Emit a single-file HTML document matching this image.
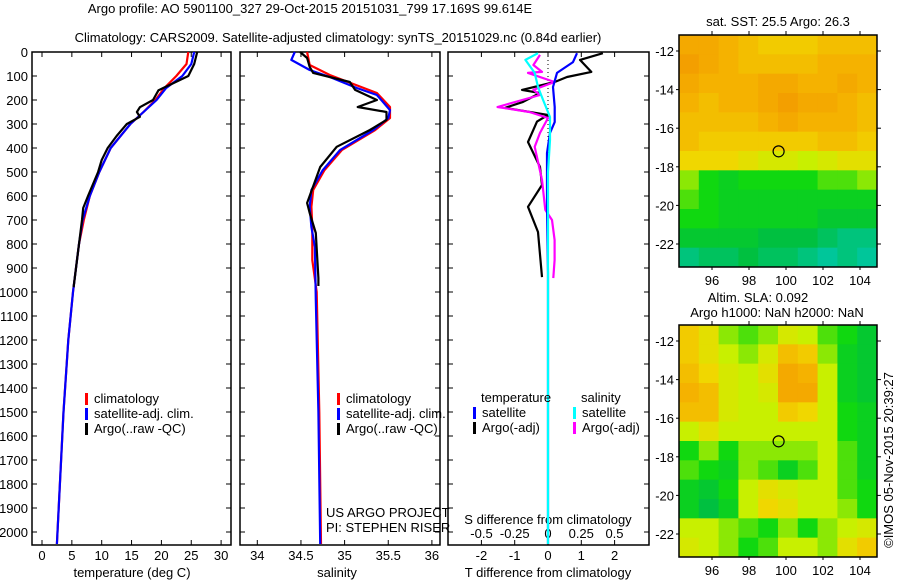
<!DOCTYPE html>
<html><head><meta charset="utf-8">
<style>
html,body{margin:0;padding:0;background:#fff}
svg{display:block;font-family:"Liberation Sans",Arial,sans-serif;font-size:13px}
</style></head>
<body>
<svg id="c" width="900" height="580" viewBox="0 0 900 580">
<text x="310" y="13" text-anchor="middle">Argo profile: AO 5901100_327 29-Oct-2015 20151031_799 17.169S 99.614E</text>
<text x="338" y="42" text-anchor="middle">Climatology: CARS2009. Satellite-adjusted climatology: synTS_20151029.nc (0.84d earlier)</text>
<g id="g"></g>
</svg>
<script>
// ---------- data ----------
const depthTicks=[0,100,200,300,400,500,600,700,800,900,1000,1100,1200,1300,1400,1500,1600,1700,1800,1900,2000];
const tempTicks=[0,5,10,15,20,25,30];
const salTicks=[34,34.5,35,35.5,36];
const tdiffTicks=[-2,-1,0,1,2];
const sdiffTicks=[-0.5,-0.25,0,0.25,0.5];
const sdiffTickLabels=["-0.5","-0.25","0","0.25","0.5"];
const latTicks=[-12,-14,-16,-18,-20,-22];
const lonTicks=[96,98,100,102,104];

const tClimDepth=[0,50,100,150,200,250,300,400,500,600,700,800,1000,1200,1500,2000,2050];
const tClimVal=[24.5,24.2,22.5,20.5,19,17,14.8,11.5,9.6,8,7,6.2,5.2,4.4,3.6,2.6,2.5];
const tSatDepth=[0,50,100,150,200,250,300,400,500,600,700,800,1000,1200,1500,2000,2050];
const tSatVal=[25.5,25,23.5,20.8,19.2,17,14.8,11.5,9.6,8,6.8,6.2,5.2,4.4,3.6,2.6,2.5];
const tArgoDepth=[0,50,100,150,160,200,230,250,270,300,350,400,450,500,600,650,700,800,900,980];
const tArgoVal=[26,25.5,24.5,20.3,19.5,18.6,16.4,15.9,16.4,14.2,12.5,11,10,9.4,7.7,6.9,6.7,6.2,5.7,5.3];

const sClimDepth=[0,54,96,171,229,275,325,408,492,575,645,729,867,1000,1500,2050];
const sClimVal=[34.57,34.6,34.83,35.37,35.52,35.52,35.35,34.97,34.77,34.64,34.62,34.63,34.63,34.68,34.71,34.73];
const sSatDepth=[0,33,75,104,150,179,242,275,325,408,492,575,645,729,812,1033,1500,2050];
const sSatVal=[34.43,34.39,34.6,34.83,35.14,35.37,35.52,35.5,35.33,34.95,34.75,34.62,34.6,34.62,34.66,34.67,34.7,34.72];
const sArgoDepth=[0,25,62,87,125,158,200,229,250,283,325,395,479,629,671,754,942,975];
const sArgoVal=[34.49,34.57,34.6,34.64,35.06,35.12,35.37,35.15,35.48,35.48,35.29,34.91,34.72,34.57,34.6,34.67,34.7,34.7];

const dTArgoDepth=[5,33,83,104,125,158,171,208,233,262,290,375,479,554,645,750,938];
const dTArgoVal=[1.65,0.96,1.3,0.57,0.2,-0.78,-0.24,-0.75,-1.29,0,-0.33,-0.6,-0.24,-0.18,-0.6,-0.3,-0.18];
const dSArgoDepth=[12,54,83,87,125,158,179,229,250,275,337,395,533,658,700,783,867,942];
const dSArgoVal=[-0.06,-0.11,-0.045,-0.15,0.05,-0.11,-0.06,-0.38,-0.14,0,-0.06,-0.1,-0.045,-0.02,0.03,0.05,0.05,0.04];
const dTSatDepth=[5,42,87,146,229,292,337,421,645,921,2050];
const dTSatVal=[0.87,0.75,0.27,0.15,0.2,0.2,0.06,-0.03,-0.03,0,0];
const dSSatDepth=[5,33,87,146,200,271,367,500,2050];
const dSSatVal=[-0.075,-0.17,-0.1,-0.075,-0.037,0.015,0.015,0,0];

const sstGrid=[
[.85,.85,.8,.75,.7,.7,.7,.75,.75,.75],
[.9,.85,.8,.75,.75,.75,.75,.8,.8,.8],
[.85,.8,.8,.8,.85,.85,.8,.8,.85,.8],
[.8,.75,.8,.8,.85,.9,.85,.85,.8,.75],
[.75,.75,.75,.75,.8,.85,.8,.8,.8,.75],
[.75,.7,.7,.7,.7,.7,.7,.75,.75,.7],
[.65,.65,.65,.6,.55,.55,.5,.55,.6,.6],
[.45,.35,.3,.35,.35,.35,.35,.4,.4,.45],
[.4,.35,.3,.3,.3,.3,.3,.3,.3,.3],
[.35,.35,.3,.3,.3,.3,.3,.25,.25,.25],
[.25,.25,.25,.25,.2,.2,.2,.15,.1,.1],
[.1,.15,.15,.2,.15,.15,.1,.05,.1,.05]];
const slaGrid=[
[.7,.6,.45,.4,.45,.55,.5,.4,.35,.25],
[.7,.6,.5,.45,.55,.75,.7,.45,.3,.25],
[.75,.65,.55,.5,.6,.85,.8,.5,.3,.25],
[.8,.75,.55,.5,.55,.85,.85,.5,.3,.25],
[.75,.75,.55,.5,.5,.7,.65,.5,.35,.3],
[.5,.6,.5,.5,.5,.5,.5,.5,.35,.3],
[.35,.45,.35,.45,.45,.45,.45,.5,.4,.3],
[.4,.35,.3,.45,.4,.3,.4,.5,.4,.3],
[.3,.25,.35,.5,.6,.55,.5,.5,.4,.35],
[.3,.2,.3,.5,.65,.6,.5,.5,.45,.35],
[.5,.5,.45,.4,.35,.45,.35,.45,.5,.55],
[.55,.5,.45,.35,.4,.5,.5,.45,.6,.7]];
const argoLon=99.6, argoLat=-17.2;

// ---------- helpers ----------
const NS="http://www.w3.org/2000/svg";
const G=document.getElementById('g');
function el(tag,attrs,parent){const e=document.createElementNS(NS,tag);for(const k in attrs)e.setAttribute(k,attrs[k]);(parent||G).appendChild(e);return e;}
function txt(x,y,s,anchor,parent){const t=el('text',{x:x,y:y,'text-anchor':anchor||'start'},parent);t.textContent=s;return t;}

const Y0=52, PXM=0.24, YB=545;
const yD=d=>Y0+d*PXM;
const xT=v=>42+v*5.97;
const xS=v=>257.3+(v-34)*87.3;
const xDT=v=>548+v*33.3;
const xDS=v=>548+v*133;

function panel(x0,x1,name){
  const r=el('rect',{x:x0,y:Y0,width:x1-x0,height:YB-Y0,fill:'none',stroke:'#000','stroke-width':1.5});
  
  
  depthTicks.forEach(d=>{
    el('line',{x1:x0,x2:x0+5,y1:yD(d),y2:yD(d),stroke:'#000'});
    el('line',{x1:x1-5,x2:x1,y1:yD(d),y2:yD(d),stroke:'#000'});
  });
}
function line(ds,vs,sx,color,name,w){
  const p=ds.map((d,i)=>sx(vs[i]).toFixed(1)+','+yD(d).toFixed(1)).join(' ');
  const e=el('polyline',{points:p,fill:'none',stroke:color,'stroke-width':w||2.2,'stroke-linejoin':'round'});
  
  
}
function legend(x,y,items,parent){
  items.forEach((it,i)=>{
    el('rect',{x:x,y:y+i*15-10,width:3,height:12,fill:it[0]});
    txt(x+9,y+i*15,it[1]);
  });
}

depthTicks.forEach(d=>{const t=txt(28,yD(d)+5,String(d),'end');

});

// panel 1: temperature
panel(32,231,'temperature-panel');
tempTicks.forEach(v=>{el('line',{x1:xT(v),x2:xT(v),y1:YB,y2:YB-5,stroke:'#000'});el('line',{x1:xT(v),x2:xT(v),y1:Y0,y2:Y0+5,stroke:'#000'});txt(xT(v),560,String(v),'middle');});
txt(132,577,'temperature (deg C)','middle');
line(tClimDepth,tClimVal,xT,'#f00','temp-climatology-line');
line(tSatDepth,tSatVal,xT,'#00f','temp-satellite-line');
line(tArgoDepth,tArgoVal,xT,'#000','temp-argo-line');
legend(85,403,[['#f00','climatology'],['#00f','satellite-adj. clim.'],['#000','Argo(..raw -QC)']]);

// panel 2: salinity
panel(240,440,'salinity-panel');
salTicks.forEach(v=>{el('line',{x1:xS(v),x2:xS(v),y1:YB,y2:YB-5,stroke:'#000'});el('line',{x1:xS(v),x2:xS(v),y1:Y0,y2:Y0+5,stroke:'#000'});txt(xS(v),560,String(v),'middle');});
txt(337,577,'salinity','middle');
line(sClimDepth,sClimVal,xS,'#f00','sal-climatology-line');
line(sSatDepth,sSatVal,xS,'#00f','sal-satellite-line');
line(sArgoDepth,sArgoVal,xS,'#000','sal-argo-line');
legend(337,403,[['#f00','climatology'],['#00f','satellite-adj. clim.'],['#000','Argo(..raw -QC)']]);
txt(326,517,'US ARGO PROJECT');
txt(326,532,'PI: STEPHEN RISER');

// panel 3: differences
panel(448,649,'difference-panel');
tdiffTicks.forEach(v=>{el('line',{x1:xDT(v),x2:xDT(v),y1:YB,y2:YB-5,stroke:'#000'});el('line',{x1:xDT(v),x2:xDT(v),y1:Y0,y2:Y0+5,stroke:'#000'});txt(xDT(v),560,String(v),'middle');});
sdiffTicks.forEach((v,i)=>{txt(xDS(v),538,sdiffTickLabels[i],'middle');});
txt(548,524,'S difference from climatology','middle');
txt(548,577,'T difference from climatology','middle');
el('line',{x1:548,x2:548,y1:Y0,y2:YB,stroke:'#000','stroke-dasharray':'1,3'});
line(dTArgoDepth,dTArgoVal,xDT,'#000','tdiff-argo-line');
line(dSArgoDepth,dSArgoVal,xDS,'#f0f','sdiff-argo-line');
line(dTSatDepth,dTSatVal,xDT,'#00f','tdiff-satellite-line');
line(dSSatDepth,dSSatVal,xDS,'#0ff','sdiff-satellite-line');
txt(481,402,'temperature');txt(581,402,'salinity');
legend(473,417,[['#00f','satellite'],['#000','Argo(-adj)']]);
legend(573,417,[['#0ff','satellite'],['#f0f','Argo(-adj)']]);

// maps
const stops=[[0,[0,200,184]],[0.2,[0,192,64]],[0.35,[16,216,16]],[0.5,[200,240,0]],[0.65,[240,215,0]],[0.8,[245,178,0]],[1,[240,140,0]]];
function cmap(v){for(let i=1;i<stops.length;i++){if(v<=stops[i][0]){const a=stops[i-1],b=stops[i],t=(v-a[0])/(b[0]-a[0]);return 'rgb('+a[1].map((c,k)=>Math.round(c+(b[1][k]-c)*t)).join(',')+')';}}return 'rgb(240,140,0)';}
function map(top,grid,name){
  const X0=679,X1=877,Yt=top,Yb=top+232;
  const xL=lon=>712+(lon-96)*18.5;
  const yL=lat=>Yt+16+(-12-lat)*19.3;
  const g=el('g',{});
  
  
  const rows=grid.length,cols=grid[0].length,cw=(X1-X0)/cols,rh=(Yb-Yt)/rows;
  grid.forEach((row,i)=>row.forEach((v,j)=>{
    const c=el('rect',{x:X0+j*cw,y:Yt+i*rh,width:cw+0.5,height:rh+0.5,fill:cmap(v)},g);
    
    
  }));
  el('rect',{x:X0,y:Yt,width:X1-X0,height:Yb-Yt,fill:'none',stroke:'#000','stroke-width':1.5},g);
  latTicks.forEach(l=>{el('line',{x1:X1,x2:X1+4,y1:yL(l),y2:yL(l),stroke:'#000'},g);el('line',{x1:X0-3,x2:X0,y1:yL(l),y2:yL(l),stroke:'#000'},g);txt(674,yL(l)+5,String(l),'end',g);});
  lonTicks.forEach(l=>{el('line',{x1:xL(l),x2:xL(l),y1:Yt-4,y2:Yt,stroke:'#000'},g);el('line',{x1:xL(l),x2:xL(l),y1:Yb,y2:Yb+3,stroke:'#000'},g);txt(xL(l),Yb+18,String(l),'middle',g);});
  const m=el('circle',{cx:xL(argoLon),cy:yL(argoLat),r:5.5,fill:'none',stroke:'#000','stroke-width':1.2},g);
  
  
}
map(35,sstGrid,'sst-map');
map(325,slaGrid,'sla-map');
txt(778,26,'sat. SST: 25.5 Argo: 26.3','middle');
txt(758,302,'Altim. SLA: 0.092','middle');
txt(777,317,'Argo h1000: NaN h2000: NaN','middle');
const r=txt(0,0,'\u00A9IMOS 05-Nov-2015 20:39:27','middle');
r.setAttribute('transform','translate(893,460) rotate(-90)');


</script>
</body></html>
